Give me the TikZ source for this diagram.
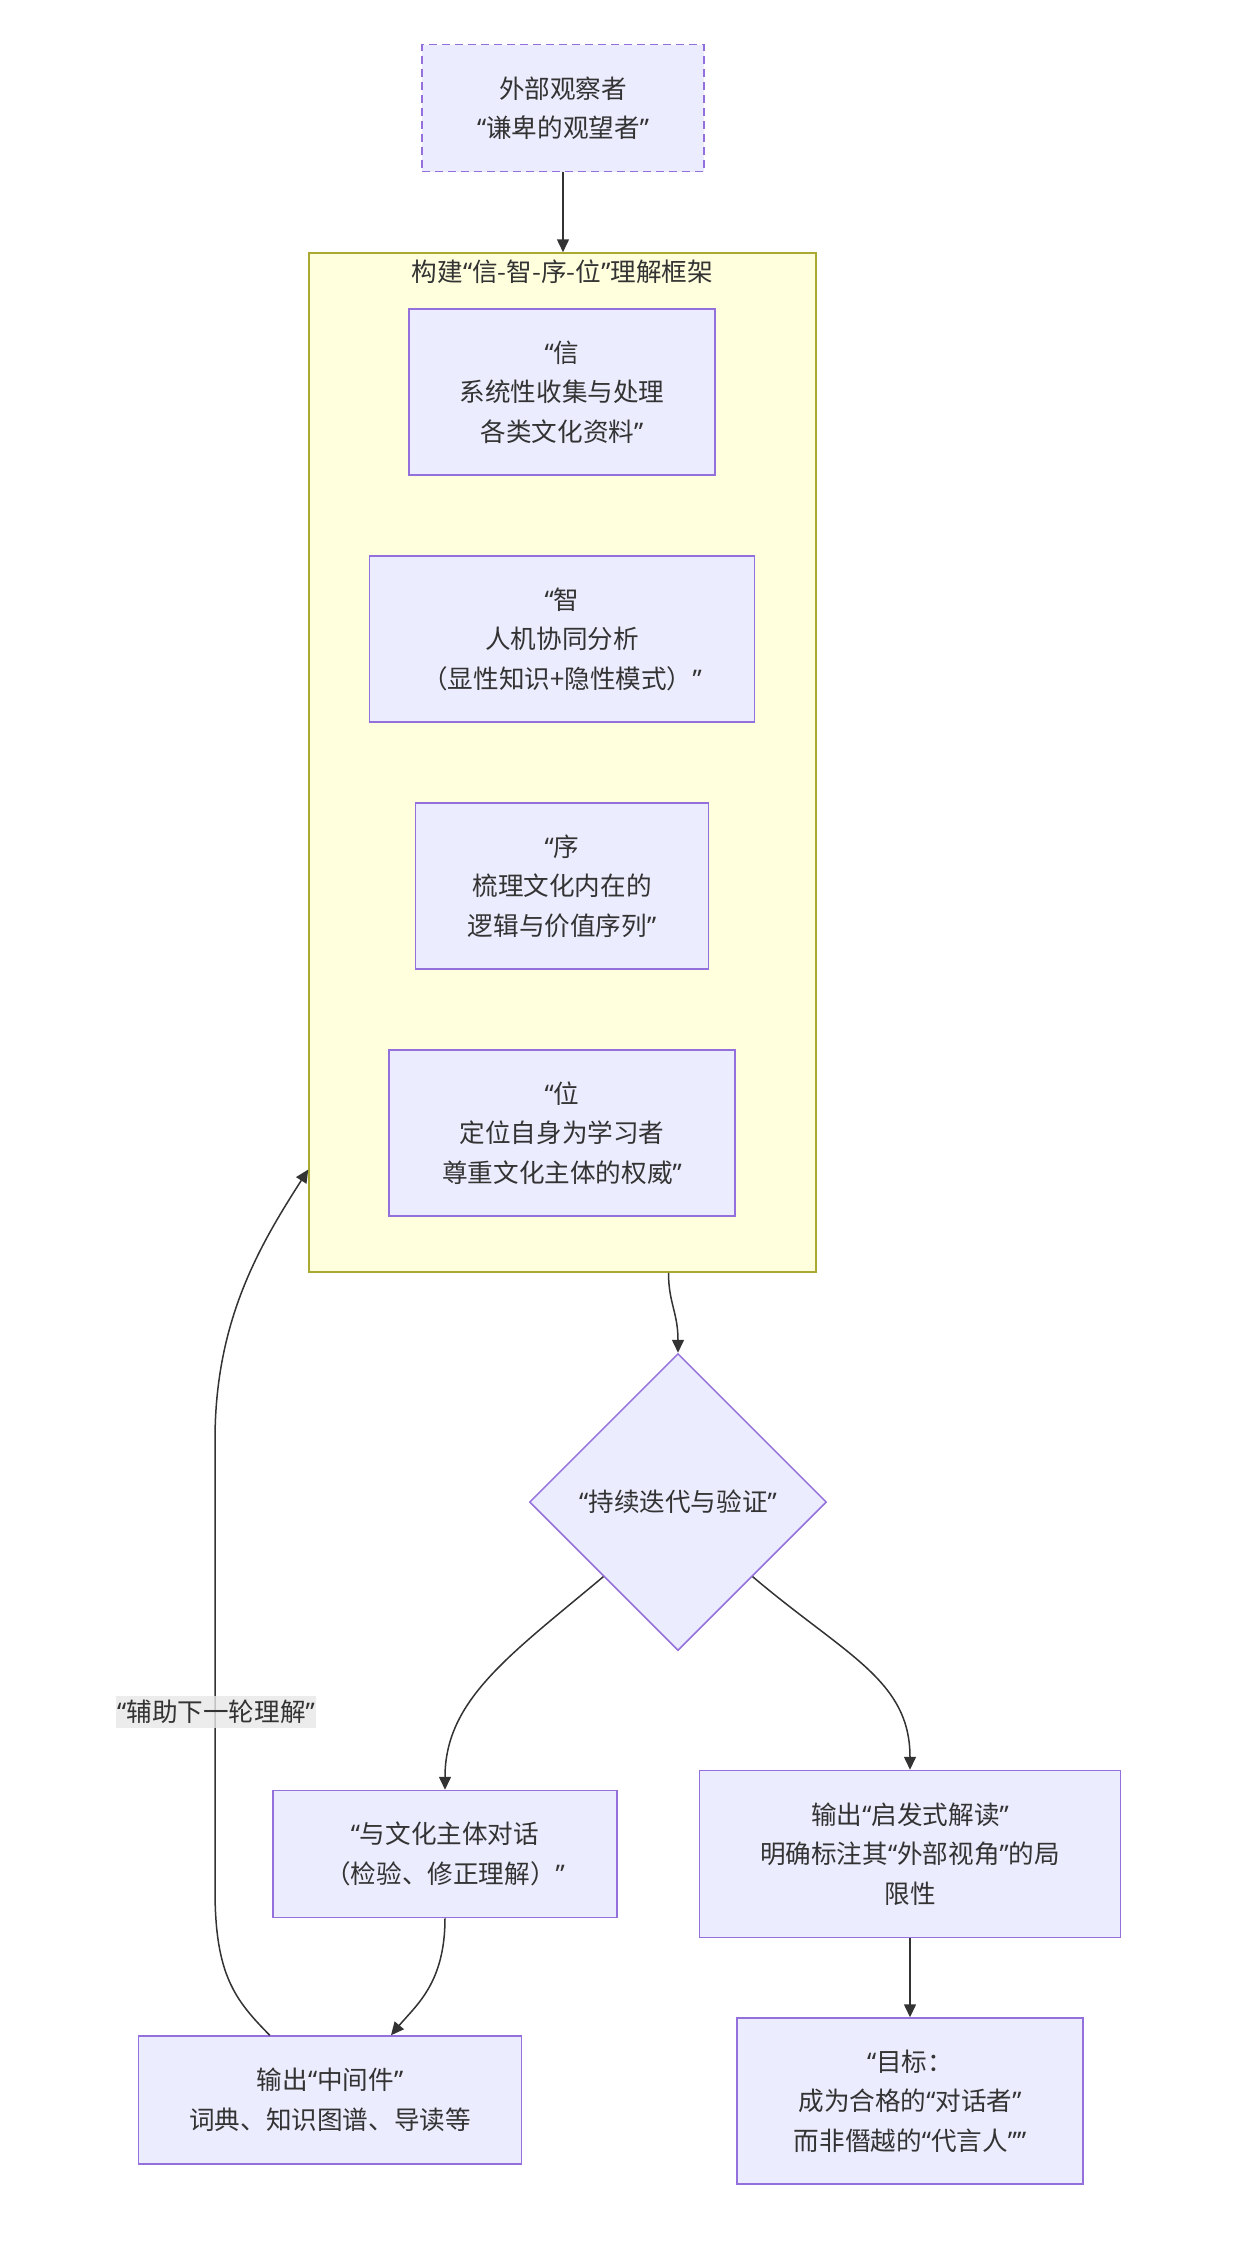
\documentclass[tikz,border=0pt]{standalone}
\usepackage{fontspec}
\setmainfont{Noto Sans CJK SC}
\newfontfamily\qfont{Noto Sans}
\newcommand\oq{{\qfont “}}
\newcommand\cq{{\qfont ”}}
\usetikzlibrary{shapes.geometric,arrows.meta,calc}
\definecolor{nodefill}{HTML}{ECECFF}
\definecolor{nodestroke}{HTML}{9370DB}
\definecolor{clusterfill}{HTML}{FFFFDE}
\definecolor{clusterstroke}{HTML}{AAAA33}
\definecolor{textcol}{HTML}{333333}
\definecolor{edgecol}{HTML}{333333}
\definecolor{labelbg}{HTML}{E8E8E8}
\tikzset{
  box/.style={draw=nodestroke, fill=nodefill, line width=1.5pt, align=center,
    text=textcol, font=\fontsize{25.6}{39.5}\selectfont, inner sep=0pt},
  clusterbox/.style={draw=clusterstroke, fill=clusterfill, line width=1.5pt, inner sep=0pt},
  arr/.style={draw=edgecol, line width=1.5pt, -{Triangle[length=13pt,width=12pt]}},
  elabel/.style={fill=labelbg, fill opacity=0.8, text opacity=1, text=textcol,
    font=\fontsize{25.6}{30}\selectfont, inner xsep=1pt, inner ysep=4pt},
  ctitle/.style={text=textcol, font=\fontsize{25.6}{30}\selectfont, inner sep=0pt}
}
\begin{document}
\begin{tikzpicture}[x=1pt,y=-1pt]
\useasboundingbox[fill=white] (0,0) rectangle (1242,2251);

\node[box, dash pattern=on 8pt off 5pt, minimum width=282pt, minimum height=127pt] (obs) at (563,108) {外部观察者\\\oq 谦卑的观望者\cq};

\node[clusterbox, minimum width=507pt, minimum height=1019pt] (cluster) at (562.5,762.5) {};
\node[ctitle] (ctitle) at (562.5,272) {构建\oq 信-智-序-位\cq 理解框架};

\node[box, minimum width=306pt, minimum height=166pt] (xin) at (562,392) {\oq 信\\系统性收集与处理\\各类文化资料\cq};
\node[box, minimum width=385pt, minimum height=166pt] (zhi) at (562,639) {\oq 智\\人机协同分析\\（显性知识+隐性模式）\cq};
\node[box, minimum width=293pt, minimum height=166pt] (xu) at (562,886) {\oq 序\\梳理文化内在的\\逻辑与价值序列\cq};
\node[box, minimum width=346pt, minimum height=166pt] (wei) at (562,1133) {\oq 位\\定位自身为学习者\\尊重文化主体的权威\cq};

\node[box, diamond, minimum width=297pt, minimum height=297pt] (iter) at (678,1502) {\oq 持续迭代与验证\cq};

\node[box, minimum width=344pt, minimum height=127pt] (dia) at (445,1854) {\oq 与文化主体对话\\（检验、修正理解）\cq};
\node[box, minimum width=421pt, minimum height=167pt] (heu) at (910,1854) {输出\oq 启发式解读\cq\\明确标注其\oq 外部视角\cq 的局\\限性};
\node[box, minimum width=383pt, minimum height=128pt] (mid) at (330,2100) {输出\oq 中间件\cq\\词典、知识图谱、导读等};
\node[box, minimum width=346pt, minimum height=166pt] (goal) at (910,2101) {\oq 目标：\\成为合格的\oq 对话者\cq\\而非僭越的\oq 代言人\cq\cq};

% edges
\draw[arr] (obs.south) -- (cluster.north -| obs.south);
\coordinate (cs) at ($(cluster.south)+(106,0)$);
\draw[arr] (cs) .. controls ($(cs)+(0,30)$) and ($(iter.north)+(0,-40)$) .. (iter.north);
\draw[arr] (iter.south west) .. controls (510,1655) and ($(dia.north)+(0,-90)$) .. (dia.north);
\draw[arr] (iter.south east) .. controls (845,1655) and ($(heu.north)+(0,-90)$) .. (heu.north);
\coordinate (mt) at ($(mid.north)+(61,0)$);
\draw[arr] (dia.south) .. controls ($(dia.south)+(0,65)$) and ($(mt)+(25,-30)$) .. (mt);
\draw[arr] (heu.south) -- (goal.north);
\coordinate (ml) at ($(mid.north west)+(132,0)$);
\coordinate (cw) at ($(cluster.west)+(0,407)$);
\draw[arr] (ml) .. controls (235,2000) and (215,1975) .. (215,1890)
  -- (215,1440) .. controls (215,1320) and (260,1245) .. (cw);
\node[elabel] (lbl) at (216,1712) {\oq 辅助下一轮理解\cq};
\end{tikzpicture}
\end{document}
